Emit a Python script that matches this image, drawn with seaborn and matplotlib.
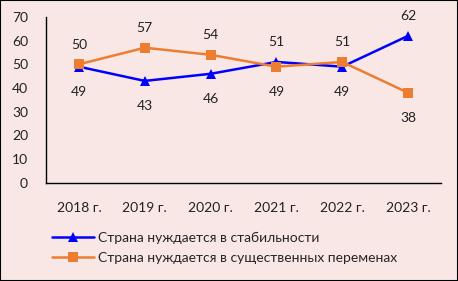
import matplotlib.pyplot as plt
import pandas as pd
import seaborn as sns

years = ['2018 г.', '2019 г.', '2020 г.', '2021 г.', '2022 г.', '2023 г.']
stability = [49, 43, 46, 51, 49, 62]
changes = [50, 57, 54, 49, 51, 38]
s1 = 'Страна нуждается в стабильности'
s2 = 'Страна нуждается в существенных переменах'

df = pd.DataFrame({
    'year': years * 2,
    'value': stability + changes,
    'series': [s1] * 6 + [s2] * 6,
})

bg = '#F8E7E5'
sns.set_style('white')
plt.rcParams['font.family'] = ['Lato', 'DejaVu Sans']

fig = plt.figure(figsize=(4.58, 2.81), dpi=100, facecolor=bg)
ax = fig.add_axes([0.1004, 0.349, 0.8626, 0.591])
ax.set_facecolor(bg)

sns.lineplot(data=df, x='year', y='value', hue='series', style='series',
             markers=['^', 's'], dashes=False, markersize=7.5, linewidth=1.8,
             markeredgewidth=0, palette=['#0000FF', '#ED7D31'], ax=ax)

# data labels: bigger value above, smaller one below
for i in range(len(years)):
    for v, other in ((stability[i], changes[i]), (changes[i], stability[i])):
        dy = 14 if v >= other else -18
        ax.annotate(str(v), (i, v), xytext=(0, dy), textcoords='offset points',
                    ha='center', va='center', fontsize=10, color='#222222')

ax.set_ylim(0, 70)
ax.set_xlim(-0.5, 5.5)
ax.set_yticks(range(0, 71, 10))
ax.set_xlabel('')
ax.set_ylabel('')
ax.tick_params(axis='both', length=0, labelsize=10, colors='#222222')
ax.tick_params(axis='x', pad=14)
ax.tick_params(axis='y', pad=13)
for sp in ['top', 'right']:
    ax.spines[sp].set_visible(False)
for sp in ['left', 'bottom']:
    ax.spines[sp].set_color('black')
    ax.spines[sp].set_linewidth(1)

ax.legend(loc='upper left', bbox_to_anchor=(0.1015, 0.194), bbox_transform=fig.transFigure,
          frameon=False, fontsize=10, handlelength=3.0, handletextpad=0.3,
          labelspacing=0.55, borderaxespad=0)

fig.patches.append(plt.Rectangle((0, 0), 1, 1, transform=fig.transFigure,
                                 fill=False, edgecolor='black', linewidth=1.5))

plt.savefig('out.png', dpi=100, facecolor=bg)
